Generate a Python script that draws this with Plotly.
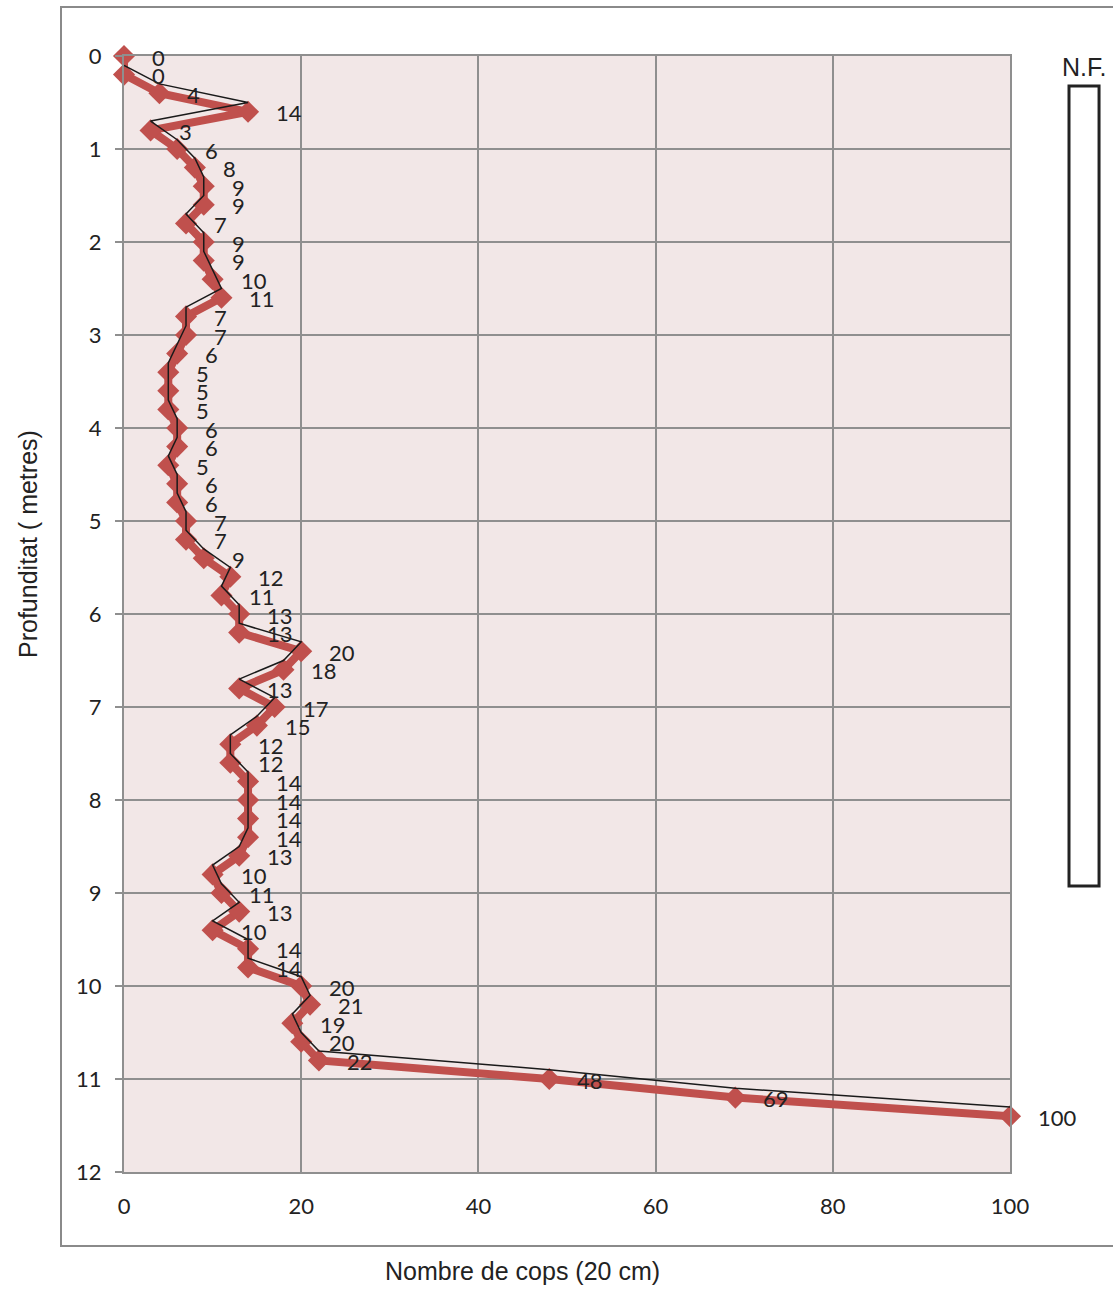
import plotly.graph_objects as go

# Penetration test: blow counts per 20 cm interval versus depth
profunditat = [round(0.2 * i, 1) for i in range(58)]
cops = [0, 0, 4, 14, 3, 6, 8, 9, 9, 7, 9, 9, 10, 11, 7, 7, 6, 5, 5, 5,
        6, 6, 5, 6, 6, 7, 7, 9, 12, 11, 13, 13, 20, 18, 13, 17, 15, 12, 12, 14,
        14, 14, 14, 13, 10, 11, 13, 10, 14, 14, 20, 21, 19, 20, 22, 48, 69, 100]

# Mid-point of each 20 cm interval (thin line)
profunditat_mitja = [d - 0.1 for d in profunditat[1:]]
cops_mitja = cops[1:]

x_ticks = [0, 20, 40, 60, 80, 100]
y_ticks = list(range(0, 13))

RED = "#C0504D"
GRID = "#8f8f8f"
LABEL_FONT = "Lato"
TITLE_FONT = "Liberation Sans"

fig = go.Figure()

fig.add_trace(go.Scatter(
    x=cops, y=profunditat, mode="lines+markers",
    line=dict(color=RED, width=8),
    marker=dict(symbol="diamond", size=17, color=RED),
    cliponaxis=False, showlegend=False, hoverinfo="x+y",
))

fig.add_trace(go.Scatter(
    x=cops_mitja, y=profunditat_mitja, mode="lines",
    line=dict(color="#1a1a1a", width=1.5),
    cliponaxis=False, showlegend=False, hoverinfo="skip",
))

# Value labels beside each marker
for xv, yv in zip(cops, profunditat):
    fig.add_annotation(
        x=xv, y=yv, text=str(xv), showarrow=False,
        xanchor="left", yanchor="middle", xshift=26, yshift=-1,
        font=dict(family=LABEL_FONT, size=22, color="#222222"),
    )

# Axis titles
fig.add_annotation(
    x=0.4503, y=-0.0887, xref="paper", yref="paper",
    text="Nombre de cops (20 cm)", showarrow=False,
    xanchor="center", yanchor="middle",
    font=dict(family=TITLE_FONT, size=25, color="#222222"),
)
fig.add_annotation(
    x=-0.1084, y=0.5627, xref="paper", yref="paper",
    text="Profunditat ( metres)", showarrow=False, textangle=-90,
    xanchor="center", yanchor="middle",
    font=dict(family=TITLE_FONT, size=25, color="#222222"),
)

# Water table marker (N.F.)
fig.add_annotation(
    x=1.0835, y=0.9901, xref="paper", yref="paper",
    text="N.F.", showarrow=False, xanchor="center", yanchor="middle",
    font=dict(family=TITLE_FONT, size=25, color="#222222"),
)
fig.add_shape(
    type="rect", xref="paper", yref="paper",
    x0=1.0666, x1=1.1005, y0=0.2563, y1=0.9731,
    line=dict(color="#222222", width=3), fillcolor="white",
)

# Outer frame
fig.add_shape(
    type="rect", xref="paper", yref="paper",
    x0=-0.0711, x1=1.1185, y0=-0.0663, y1=1.0439,
    line=dict(color="#8a8a8a", width=2), fillcolor="rgba(0,0,0,0)",
)

fig.update_xaxes(
    range=[0, 100], tickvals=x_ticks, ticktext=[str(v) for v in x_ticks],
    showgrid=True, gridcolor=GRID, gridwidth=2,
    showline=True, linecolor=GRID, linewidth=2, mirror=True,
    zeroline=False, ticks="", ticklabelstandoff=14,
    tickfont=dict(family=LABEL_FONT, size=22, color="#222222"),
)
fig.update_yaxes(
    range=[12, 0], tickvals=y_ticks, ticktext=[str(v) for v in y_ticks],
    showgrid=True, gridcolor=GRID, gridwidth=2,
    showline=True, linecolor=GRID, linewidth=2, mirror=True,
    zeroline=False, ticks="outside", ticklen=7, tickwidth=2, tickcolor=GRID,
    ticklabelstandoff=9,
    tickfont=dict(family=LABEL_FONT, size=22, color="#222222"),
)

fig.update_layout(
    width=1113, height=1291,
    margin=dict(l=124, r=103, t=56, b=119),
    plot_bgcolor="#F2E7E7", paper_bgcolor="white",
)

fig.write_html("out.html")
